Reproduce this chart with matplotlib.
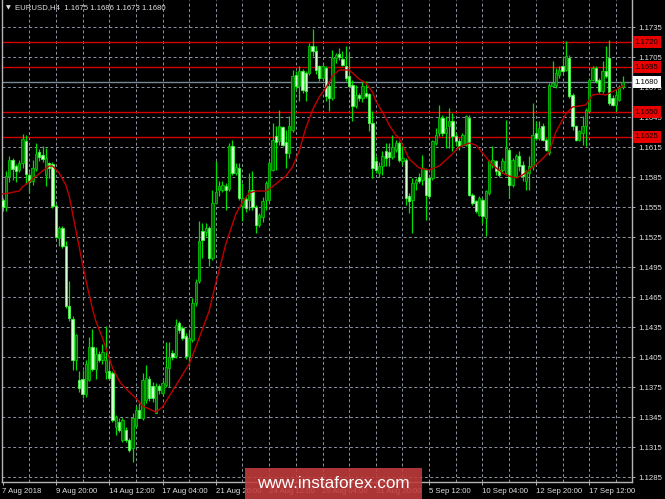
import matplotlib
matplotlib.use("Agg")
import matplotlib.pyplot as plt
import matplotlib.transforms as mtrans
from matplotlib.patches import Rectangle
import numpy as np

# ---------------- data (EURUSD H4) ----------------
opens = [
 1.1562,1.1555,1.1586,1.1602,1.1596,1.1592,1.1599,1.1621,1.1587,1.1581,
 1.1593,1.1610,1.1607,1.1587,1.1599,1.1598,1.1556,1.1524,1.1534,1.1516,
 1.1456,1.1443,1.1402,1.1382,1.1383,1.1368,1.1382,1.1415,1.1393,1.1408,
 1.1402,1.1390,1.1391,1.1389,1.1335,1.1340,1.1322,1.1332,1.1322,1.1314,
 1.1336,1.1352,1.1344,1.1362,1.1383,1.1376,1.1349,1.1376,1.1369,1.1377,
 1.1394,1.1409,1.1406,1.1439,1.1434,1.1426,1.1406,1.1422,1.1459,1.1481,
 1.1531,1.1530,1.1534,1.1504,1.1559,1.1572,1.1572,1.1576,1.1573,1.1616,
 1.1589,1.1594,1.1556,1.1563,1.1562,1.1572,1.1555,1.1537,1.1545,1.1562,
 1.1562,1.1592,1.1626,1.1621,1.1635,1.1620,1.1609,1.1632,1.1687,1.1676,
 1.1691,1.1689,1.1689,1.1716,1.1711,1.1696,1.1684,1.1694,1.1676,1.1664,
 1.1704,1.1708,1.1703,1.1696,1.1686,1.1677,1.1656,1.1667,1.1664,1.1669,
 1.1668,1.1639,1.1601,1.1589,1.1596,1.1611,1.1610,1.1605,1.1612,1.1619,
 1.1601,1.1602,1.1566,1.1562,1.1579,1.1585,1.1582,1.1592,1.1584,1.1584,
 1.1619,1.1629,1.1644,1.1629,1.1636,1.1641,1.1626,1.1621,1.1617,1.1617,
 1.1644,1.1567,1.1561,1.1547,1.1562,1.1544,1.1569,1.1597,1.1601,1.1592,
 1.1592,1.1589,1.1612,1.1577,1.1586,1.1606,1.1597,1.1581,1.1589,1.1596,
 1.1629,1.1624,1.1636,1.1622,1.1609,1.1676,1.1677,1.1687,1.1696,1.1692,
 1.1704,1.1667,1.1636,1.1622,1.1629,1.1636,1.1651,1.1682,1.1694,1.1682,
 1.1671,1.1691,1.1704,1.1664,1.1657,1.1662,1.1675]
highs = [
 1.1564,1.1591,1.1606,1.1604,1.1598,1.1602,1.1628,1.1627,1.1590,1.1602,
 1.1619,1.1613,1.1616,1.1614,1.1600,1.1600,1.1558,1.1536,1.1536,1.1521,
 1.1481,1.1446,1.1428,1.1391,1.1392,1.1402,1.1425,1.1433,1.1415,1.1411,
 1.1418,1.1436,1.1404,1.1391,1.1347,1.1344,1.1344,1.1335,1.1324,1.1349,
 1.1356,1.1359,1.1389,1.1397,1.1386,1.1380,1.1379,1.1378,1.1382,1.1420,
 1.1420,1.1412,1.1443,1.1441,1.1436,1.1429,1.1432,1.1464,1.1483,1.1541,
 1.1539,1.1539,1.1536,1.1572,1.1601,1.1581,1.1581,1.1579,1.1619,1.1622,
 1.1599,1.1599,1.1579,1.1566,1.1589,1.1591,1.1557,1.1549,1.1565,1.1581,
 1.1601,1.1639,1.1636,1.1652,1.1636,1.1632,1.1646,1.1692,1.1691,1.1696,
 1.1693,1.1691,1.1719,1.1733,1.1716,1.1697,1.1699,1.1696,1.1679,1.1712,
 1.1709,1.1714,1.1711,1.1716,1.1709,1.1682,1.1677,1.1669,1.1680,1.1681,
 1.1669,1.1651,1.1606,1.1600,1.1611,1.1619,1.1619,1.1627,1.1622,1.1621,
 1.1617,1.1604,1.1569,1.1584,1.1584,1.1589,1.1607,1.1594,1.1587,1.1622,
 1.1634,1.1657,1.1647,1.1646,1.1654,1.1649,1.1629,1.1624,1.1629,1.1647,
 1.1647,1.1569,1.1562,1.1566,1.1564,1.1572,1.1602,1.1616,1.1602,1.1596,
 1.1604,1.1642,1.1614,1.1604,1.1608,1.1611,1.1601,1.1592,1.1606,1.1659,
 1.1641,1.1641,1.1639,1.1624,1.1679,1.1701,1.1694,1.1696,1.1706,1.1721,
 1.1707,1.1669,1.1637,1.1632,1.1646,1.1654,1.1684,1.1696,1.1696,1.1684,
 1.1701,1.1716,1.1722,1.1667,1.1671,1.1677,1.1686]
lows = [
 1.1551,1.1551,1.1580,1.1582,1.1580,1.1590,1.1594,1.1578,1.1569,1.1577,
 1.1591,1.1601,1.1600,1.1576,1.1584,1.1554,1.1524,1.1516,1.1514,1.1454,
 1.1441,1.1392,1.1392,1.1370,1.1364,1.1365,1.1381,1.1391,1.1383,1.1400,
 1.1398,1.1383,1.1382,1.1340,1.1327,1.1330,1.1320,1.1320,1.1310,1.1300,
 1.1334,1.1344,1.1342,1.1359,1.1361,1.1360,1.1349,1.1368,1.1366,1.1375,
 1.1375,1.1402,1.1404,1.1429,1.1422,1.1403,1.1396,1.1420,1.1456,1.1479,
 1.1504,1.1526,1.1496,1.1502,1.1559,1.1566,1.1570,1.1552,1.1571,1.1587,
 1.1587,1.1562,1.1541,1.1550,1.1552,1.1552,1.1529,1.1535,1.1540,1.1552,
 1.1560,1.1591,1.1592,1.1617,1.1616,1.1594,1.1604,1.1630,1.1673,1.1661,
 1.1669,1.1661,1.1687,1.1706,1.1688,1.1681,1.1682,1.1661,1.1651,1.1662,
 1.1699,1.1702,1.1696,1.1681,1.1674,1.1641,1.1654,1.1661,1.1660,1.1664,
 1.1631,1.1584,1.1589,1.1585,1.1587,1.1596,1.1596,1.1603,1.1610,1.1600,
 1.1597,1.1557,1.1549,1.1529,1.1572,1.1579,1.1577,1.1542,1.1564,1.1582,
 1.1617,1.1626,1.1626,1.1614,1.1614,1.1611,1.1616,1.1612,1.1616,1.1616,
 1.1566,1.1557,1.1549,1.1546,1.1539,1.1526,1.1567,1.1594,1.1587,1.1585,
 1.1589,1.1587,1.1564,1.1575,1.1584,1.1591,1.1581,1.1572,1.1572,1.1592,
 1.1622,1.1622,1.1621,1.1611,1.1607,1.1675,1.1674,1.1684,1.1689,1.1691,
 1.1664,1.1632,1.1621,1.1621,1.1617,1.1616,1.1649,1.1681,1.1679,1.1669,
 1.1669,1.1684,1.1657,1.1656,1.1651,1.1661,1.1673]
closes = [
 1.1555,1.1586,1.1602,1.1593,1.1591,1.1599,1.1623,1.1588,1.1580,1.1594,
 1.1608,1.1605,1.1603,1.1604,1.1594,1.1556,1.1525,1.1534,1.1516,1.1456,
 1.1444,1.1402,1.1427,1.1374,1.1368,1.1398,1.1415,1.1393,1.1408,1.1402,
 1.1410,1.1402,1.1384,1.1342,1.1345,1.1332,1.1342,1.1322,1.1312,1.1344,
 1.1352,1.1344,1.1382,1.1384,1.1364,1.1364,1.1376,1.1372,1.1379,1.1395,
 1.1405,1.1405,1.1437,1.1432,1.1424,1.1406,1.1424,1.1459,1.1480,1.1521,
 1.1522,1.1534,1.1504,1.1559,1.1570,1.1576,1.1577,1.1572,1.1616,1.1589,
 1.1595,1.1564,1.1564,1.1554,1.1572,1.1555,1.1537,1.1547,1.1561,1.1579,
 1.1599,1.1622,1.1620,1.1636,1.1617,1.1609,1.1636,1.1686,1.1676,1.1691,
 1.1672,1.1671,1.1716,1.1711,1.1692,1.1684,1.1696,1.1666,1.1664,1.1704,
 1.1707,1.1705,1.1697,1.1684,1.1676,1.1656,1.1667,1.1664,1.1676,1.1666,
 1.1639,1.1594,1.1592,1.1596,1.1606,1.1604,1.1605,1.1615,1.1619,1.1602,
 1.1604,1.1564,1.1561,1.1579,1.1582,1.1581,1.1594,1.1567,1.1566,1.1621,
 1.1627,1.1644,1.1629,1.1634,1.1641,1.1626,1.1621,1.1616,1.1627,1.1646,
 1.1567,1.1559,1.1551,1.1564,1.1546,1.1571,1.1601,1.1602,1.1591,1.1587,
 1.1601,1.1614,1.1577,1.1602,1.1606,1.1596,1.1586,1.1591,1.1596,1.1627,
 1.1624,1.1634,1.1622,1.1612,1.1677,1.1679,1.1689,1.1692,1.1691,1.1706,
 1.1666,1.1636,1.1622,1.1631,1.1636,1.1652,1.1682,1.1694,1.1681,1.1671,
 1.1691,1.1686,1.1659,1.1657,1.1667,1.1674,1.1680]

# moving average (at these bar numbers)
ma_bar = [0, 2, 5, 6, 8, 9, 12, 14, 15, 17, 19, 20, 21, 22, 24, 25, 27, 28, 30, 31,
          32, 33, 35, 36, 38, 40, 42, 46, 48, 51, 56, 58, 62, 64, 67, 70, 72, 74, 76, 79,
          80, 82, 85, 87, 89, 91, 93, 95, 97, 99, 101, 104, 105, 107, 109, 111, 112, 115, 116, 118,
          119, 122, 125, 128, 131, 134, 137, 140, 142, 145, 147, 150, 152, 154, 156, 158, 161, 164, 166, 169,
          171, 175, 177, 179, 181, 184, 186]
ma_val = [1.1568, 1.1569, 1.1571, 1.1575, 1.1580, 1.1583, 1.1591, 1.1596, 1.1596, 1.1589,
          1.1577, 1.1566, 1.1549, 1.1532, 1.1498, 1.1482, 1.1453, 1.1441, 1.1424, 1.1414,
          1.1404, 1.1394, 1.1381, 1.1377, 1.1370, 1.1364, 1.1356, 1.1350, 1.1355, 1.1371,
          1.1398, 1.1415, 1.1451, 1.1479, 1.1518, 1.1548, 1.1560, 1.1569, 1.1571, 1.1571,
          1.1573, 1.1578, 1.1586, 1.1595, 1.1611, 1.1634, 1.1652, 1.1665, 1.1674, 1.1686,
          1.1692, 1.1692, 1.1689, 1.1683, 1.1679, 1.1670, 1.1661, 1.1644, 1.1637, 1.1627,
          1.1624, 1.1603, 1.1594, 1.1592, 1.1596, 1.1605, 1.1615, 1.1619, 1.1617, 1.1605,
          1.1597, 1.1589, 1.1586, 1.1584, 1.1587, 1.1592, 1.1600, 1.1610, 1.1630, 1.1648,
          1.1655, 1.1657, 1.1667, 1.1668, 1.1667, 1.1672, 1.1676]

y_ticks = [1.1285, 1.1315, 1.1345, 1.1375, 1.1405, 1.1435, 1.1465, 1.1495, 1.1525,
           1.1555, 1.1585, 1.1615, 1.1645, 1.1675, 1.1705, 1.1735]
x_tick_bars = [0, 16, 32, 48, 64, 80, 96, 112, 128, 144, 160, 176]
x_tick_labels = ["7 Aug 2018", "9 Aug 20:00", "14 Aug 12:00", "17 Aug 04:00", "21 Aug 20:00",
                 "24 Aug 12:00", "29 Aug 04:00", "31 Aug 20:00", "5 Sep 12:00", "10 Sep 04:00",
                 "12 Sep 20:00", "17 Sep 12:00"]
red_levels = [1.1720, 1.1695, 1.1650, 1.1625]
current_price = 1.1680
header = "EURUSD,H4  1.1675 1.1686 1.1673 1.1680"

# ---------------- figure ----------------
FONT = "Liberation Sans"
FS = 5.6
fig = plt.figure(figsize=(6.65, 4.99), dpi=100, facecolor="black")
ax = fig.add_axes([2 / 665, 17 / 499, 630 / 665, 482 / 499])
ax.set_facecolor("black")

o = np.array(opens); h = np.array(highs); l = np.array(lows); c = np.array(closes)
idx = np.arange(len(o))
bull = c >= o

# grid
for yv in y_ticks:
    ax.axhline(yv, color="#8c93a0", lw=0.7, dashes=(3, 2.5), zorder=1)
for xv in range(8, 189, 8):
    ax.axvline(xv, color="#8c93a0", lw=0.7, dashes=(3, 2.5), zorder=1)

# levels
for lv in red_levels:
    ax.axhline(lv, color="#d40000", lw=1.0, zorder=1.5)
ax.axhline(current_price, color="#7a8896", lw=1.0, zorder=1.5)

# candles
ax.vlines(idx, l, h, color="#00e000", lw=0.9, zorder=2)
ax.bar(idx[bull], (c - o)[bull], bottom=o[bull], width=0.72,
       color="#006a00", edgecolor="#00c400", linewidth=0.6, zorder=3)
ax.bar(idx[~bull], (o - c)[~bull], bottom=c[~bull], width=0.72,
       color="#d4ffd0", edgecolor="#3cff3c", linewidth=0.6, zorder=3)

# moving average
ax.plot(ma_bar, ma_val, color="#c00000", lw=1.0, zorder=4)

ax.set_xlim(-0.15, 188.85)
ax.set_ylim(1.1280, 1.1762)

# axes styling
for s in ["top"]:
    ax.spines[s].set_visible(False)
for s in ["left", "right", "bottom"]:
    ax.spines[s].set_color("#b4b4b4")
    ax.spines[s].set_linewidth(1.0)

ax.yaxis.tick_right()
ax.set_yticks(y_ticks)
ax.set_yticklabels([f"{v:.4f}" for v in y_ticks], fontfamily=FONT, fontsize=FS)
ax.set_xticks(x_tick_bars)
ax.set_xticklabels(x_tick_labels, fontfamily=FONT, fontsize=FS)
for lbl in ax.get_xticklabels():
    lbl.set_ha("left")
ax.tick_params(axis="y", direction="out", length=2.5, width=0.7, color="#b4b4b4",
               labelcolor="#e0e0e0", pad=2)
ax.tick_params(axis="x", direction="out", length=2.5, width=0.7, color="#b4b4b4",
               labelcolor="#e0e0e0", pad=2)

# price labels on the right axis
blend = mtrans.blended_transform_factory(ax.transAxes, ax.transData)
for lv in red_levels:
    ax.text(1.0045, lv, f"{lv:.4f}", transform=blend, ha="left", va="center",
            fontfamily=FONT, fontsize=FS, color="#1a0000", clip_on=False, zorder=6,
            bbox=dict(boxstyle="square,pad=0.3", fc="#e80000", ec="none"))
ax.text(1.0045, current_price, f"{current_price:.4f}", transform=blend, ha="left", va="center",
        fontfamily=FONT, fontsize=FS, color="black", clip_on=False, zorder=6,
        bbox=dict(boxstyle="square,pad=0.3", fc="white", ec="none"))

# header
fig.text(6 / 665, 1 - 8 / 499, "\u25bc", color="#e0e0e0", fontsize=4.5,
         va="center", ha="left", family="DejaVu Sans")
fig.text(15 / 665, 1 - 8 / 499, header, color="#e0e0e0", fontsize=FS,
         va="center", ha="left", family=FONT)

# watermark
fig.patches.append(Rectangle((245 / 665, 0), 177 / 665, 31 / 499, transform=fig.transFigure,
                             facecolor="#c43c3c", alpha=0.88, edgecolor="none", zorder=10))
fig.text(333 / 665, 1 - 484 / 499, "www.instaforex.com", color="white", fontsize=12.3,
         ha="center", va="center", family=FONT, zorder=11)

fig.savefig("out.png", dpi=100, facecolor="black")
